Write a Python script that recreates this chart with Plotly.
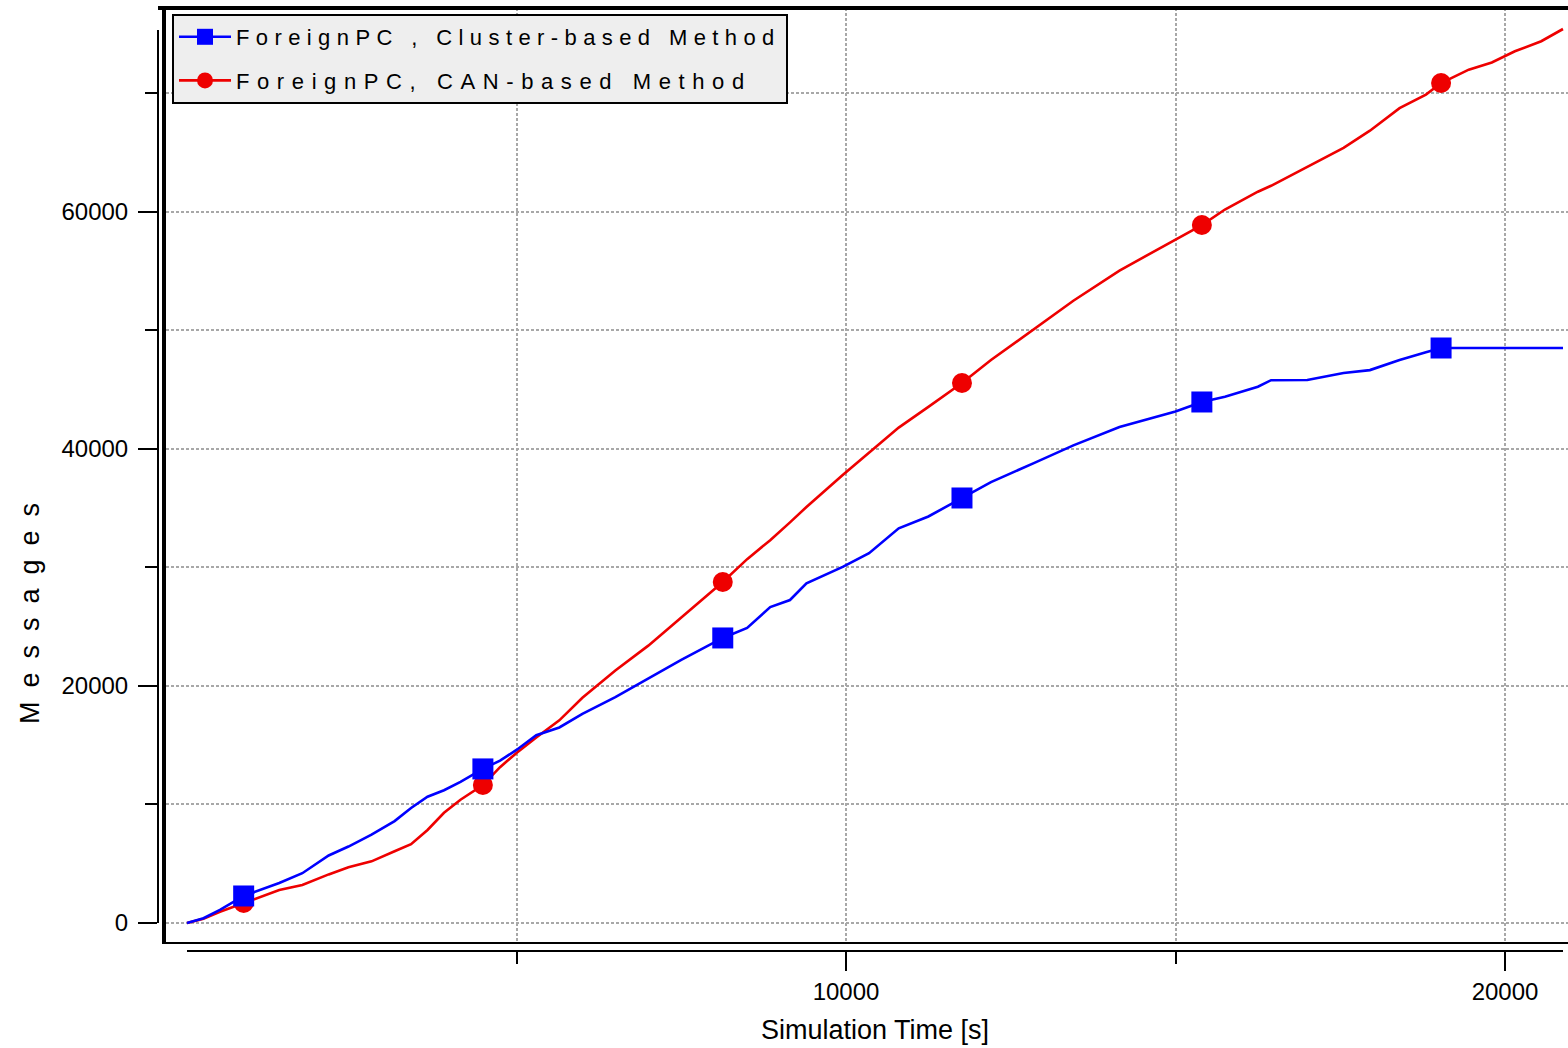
import plotly.graph_objects as go

# ---------------- data ----------------
time_s = [0, 250, 500, 860, 1400, 1750, 2150, 2450, 2800, 3150, 3400, 3650, 3900, 4150,
          4490, 4750, 5000, 5300, 5650, 6000, 6500, 7000, 7500, 8130, 8500, 8850, 9150,
          9400, 9950, 10350, 10800, 11250, 11760, 12200, 12850, 13450, 14150, 14700,
          15000, 15400, 15750, 16250, 16450, 17000, 17550, 17950, 18400, 18800, 19030,
          19450, 19800, 20150, 20550, 20880]

cluster_msgs = [0, 400, 1100, 2280, 3370, 4200, 5700, 6450, 7450, 8600, 9700, 10650, 11200,
                11900, 13000, 13700, 14600, 15850, 16500, 17650, 19050, 20600, 22200, 24050,
                24900, 26650, 27250, 28650, 30050, 31200, 33300, 34300, 35860, 37200, 38800,
                40300, 41850, 42650, 43150, 43960, 44400, 45250, 45800, 45820, 46400, 46650,
                47500, 48150, 48515, 48515, 48515, 48515, 48515, 48515]

can_msgs = [0, 350, 950, 1690, 2780, 3200, 4100, 4700, 5200, 6050, 6650, 7850, 9300, 10400,
            11640, 13150, 14350, 15650, 17100, 19000, 21300, 23400, 25800, 28770, 30700,
            32300, 33800, 35100, 37800, 39700, 41800, 43550, 45560, 47500, 50100, 52500,
            55050, 56750, 57700, 58890, 60200, 61700, 62200, 63800, 65400, 66850, 68750,
            69900, 70870, 72000, 72600, 73550, 74400, 75430]

marker_times = [860, 4490, 8130, 11760, 15400, 19030]

series_names = ["ForeignPC , Cluster-based Method", "ForeignPC, CAN-based Method"]
x_title = "Simulation Time [s]"
y_title = "Messages"

x_major_ticks = [10000, 20000]
x_minor_ticks = [5000, 15000]
y_major_ticks = [0, 20000, 40000, 60000]
y_minor_ticks = [10000, 30000, 50000, 70000]
x_grid_vals = [5000, 10000, 15000, 20000]
y_grid_vals = [0, 10000, 20000, 30000, 40000, 50000, 60000, 70000]

# ---------------- geometry (pixels of the 1568x1048 page) ----------------
W, H = 1568, 1048
FRAME_L, FRAME_R, FRAME_T, FRAME_B = 166, 1568, 8, 942
X0_PX, X_PER_S = 187, 0.0659        # x=0 at px 187, px per second
Y0_PX, Y_PER_MSG = 923, 0.011852    # y=0 at px 923, px per message
XAX_Y, YAX_X = 951, 158             # offset axis positions
XAX_END, YAX_TOP = 1563, 30


def fx(p):
    return p / W


def fy(p):
    return 1 - p / H


main_xrange = [(FRAME_L - X0_PX) / X_PER_S, (FRAME_R - X0_PX) / X_PER_S]
main_yrange = [(Y0_PX - FRAME_B) / Y_PER_MSG, (Y0_PX - FRAME_T) / Y_PER_MSG]
off_xrange = [0, (XAX_END - X0_PX) / X_PER_S]
off_yrange = [0, (Y0_PX - YAX_TOP) / Y_PER_MSG]

FONT = "Liberation Sans, Arial, Helvetica, sans-serif"
GRID = "#a8a8a8"
BLUE = "#0000ff"
RED = "#ee0000"


def spaced(text, px):
    return f'<span style="letter-spacing:{px}px">{text}</span>'


marker_idx = [i for i, t in enumerate(time_s) if t in marker_times]

fig = go.Figure()
fig.add_trace(go.Scatter(
    x=time_s, y=can_msgs, mode="lines+markers", name=spaced(series_names[1], 7.6),
    line=dict(color=RED, width=2.6), legendgroup="b", legendrank=2,
    marker=dict(symbol="circle", size=20, color=RED, opacity=1, line=dict(width=0)),
    selectedpoints=marker_idx, unselected=dict(marker=dict(opacity=0)),
))
fig.add_trace(go.Scatter(
    x=time_s, y=cluster_msgs, mode="lines+markers", name=spaced(series_names[0], 6.4),
    line=dict(color=BLUE, width=2.6), legendgroup="a", legendrank=1,
    marker=dict(symbol="square", size=21, color=BLUE, opacity=1, line=dict(width=0)),
    selectedpoints=marker_idx, unselected=dict(marker=dict(opacity=0)),
))
# empty trace to register the offset axes
fig.add_trace(go.Scatter(x=[], y=[], xaxis="x2", yaxis="y2", showlegend=False,
                         hoverinfo="skip"))

fig.update_layout(
    width=W, height=H,
    margin=dict(l=0, r=0, t=0, b=0, autoexpand=False),
    paper_bgcolor="white", plot_bgcolor="rgba(0,0,0,0)",
    font=dict(family=FONT, size=24, color="black"),
    showlegend=True,
    legend=dict(
        x=fx(172), y=fy(14), xanchor="left", yanchor="top",
        bgcolor="#eeeeee", bordercolor="black", borderwidth=2,
        font=dict(family=FONT, size=22, color="black"),
        traceorder="grouped", tracegroupgap=12, itemsizing="trace",
        itemwidth=52,
    ),
    xaxis=dict(
        domain=[fx(FRAME_L), fx(FRAME_R)], range=main_xrange, anchor="y",
        automargin=False,
        showgrid=True, gridcolor=GRID, gridwidth=1.5, griddash="3px,2px",
        tickmode="array", tickvals=x_grid_vals, showticklabels=False, ticks="",
        showline=True, linecolor="black", linewidth=2, zeroline=False,
    ),
    yaxis=dict(
        domain=[fy(FRAME_B), fy(FRAME_T)], range=main_yrange, anchor="x",
        automargin=False,
        showgrid=True, gridcolor=GRID, gridwidth=1.5, griddash="3px,2px",
        tickmode="array", tickvals=y_grid_vals, showticklabels=False, ticks="",
        showline=True, linecolor="black", linewidth=4, zeroline=False,
    ),
    xaxis2=dict(
        domain=[fx(X0_PX), fx(XAX_END)], range=off_xrange, anchor="free",
        position=fy(XAX_Y), showgrid=False, zeroline=False, automargin=False,
        showline=True, linecolor="black", linewidth=2,
        tickmode="array", tickvals=x_major_ticks, tickformat="d",
        ticks="outside", ticklen=19,
        tickwidth=2, tickcolor="black", ticklabelstandoff=0,
        tickfont=dict(family=FONT, size=24, color="black"),
        minor=dict(tickmode="array", tickvals=x_minor_ticks, ticks="outside",
                   ticklen=12, tickwidth=2, tickcolor="black", showgrid=False),
        title=dict(text=x_title, standoff=15,
                   font=dict(family=FONT, size=27, color="black")),
    ),
    yaxis2=dict(
        domain=[fy(Y0_PX), fy(YAX_TOP)], range=off_yrange, anchor="free",
        position=fx(YAX_X), side="left", showgrid=False, zeroline=False,
        automargin=False,
        showline=True, linecolor="black", linewidth=2,
        tickmode="array", tickvals=y_major_ticks, tickformat="d",
        ticks="outside", ticklen=19,
        tickwidth=2, tickcolor="black", ticklabelstandoff=5,
        tickfont=dict(family=FONT, size=24, color="black"),
        minor=dict(tickmode="array", tickvals=y_minor_ticks, ticks="outside",
                   ticklen=12, tickwidth=2, tickcolor="black", showgrid=False),
    ),
    annotations=[
        dict(text=spaced(y_title, 14), textangle=-90, xref="paper", yref="paper",
             x=fx(30), y=fy(607), xanchor="center", yanchor="middle",
             showarrow=False, font=dict(family=FONT, size=27, color="black")),
    ],
    shapes=[
        dict(type="line", xref="paper", yref="paper",
             x0=fx(YAX_X), x1=1, y0=fy(FRAME_T), y1=fy(FRAME_T),
             line=dict(color="black", width=4)),
    ],
)

fig.write_html("out.html")
